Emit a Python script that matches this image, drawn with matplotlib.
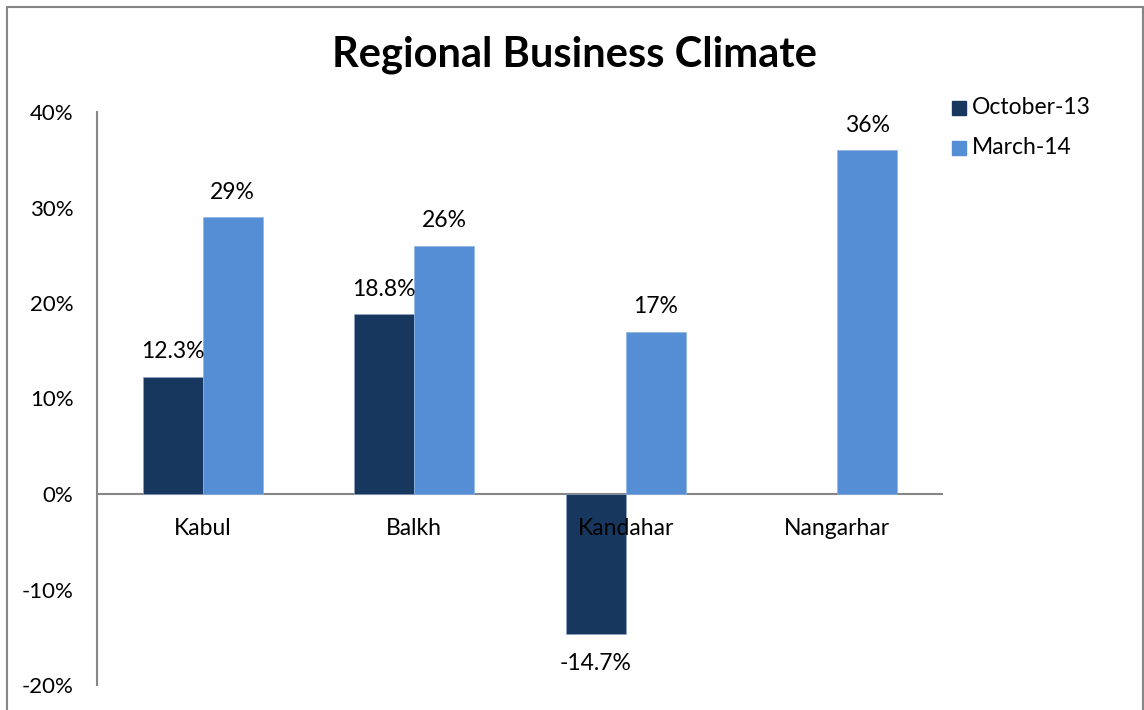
import matplotlib.pyplot as plt
import matplotlib.patches as patches
import numpy as np

plt.rcParams['font.family'] = ['Lato', 'DejaVu Sans']

regions = ['Kabul', 'Balkh', 'Kandahar', 'Nangarhar']
oct13 = [12.3, 18.8, -14.7, None]
mar14 = [29, 26, 17, 36]
oct13_labels = ['12.3%', '18.8%', '-14.7%', None]
mar14_labels = ['29%', '26%', '17%', '36%']

dark = '#17375E'
light = '#558ED5'

W, H = 1144, 710
fig = plt.figure(figsize=(W / 100, H / 100), dpi=100)
ax = fig.add_axes([97 / W, 1 - 685 / H, (943 - 97) / W, (685 - 112) / H])

x = np.arange(len(regions))
bw = 0.284
for i in range(len(regions)):
    if oct13[i] is not None:
        v = oct13[i] / 100
        ax.bar(x[i] - bw / 2, v, bw, color=dark, edgecolor='#8EA5C4', linewidth=0.5)
        off = 0.026 if v >= 0 else -0.03
        ax.text(x[i] - bw / 2, v + off, oct13_labels[i], ha='center', va='center', fontsize=16.5)
    v = mar14[i] / 100
    ax.bar(x[i] + bw / 2, v, bw, color=light, edgecolor='#8EB4E3', linewidth=0.5)
    ax.text(x[i] + bw / 2, v + 0.026, mar14_labels[i], ha='center', va='center', fontsize=16.5)

ax.set_xlim(-0.5, len(regions) - 0.5)
ax.set_ylim(-0.2, 0.4)
ax.set_yticks(np.arange(-0.2, 0.41, 0.1))
ax.set_yticklabels(['-20%', '-10%', '0%', '10%', '20%', '30%', '40%'], fontsize=16)
ax.tick_params(axis='y', length=0, pad=17)
ax.set_xticks([])
for s in ['top', 'right', 'bottom']:
    ax.spines[s].set_visible(False)
ax.spines['left'].set_color('#868686')
ax.spines['left'].set_linewidth(1.5)
ax.axhline(0, color='#868686', linewidth=1.5, zorder=0.5)

for i, r in enumerate(regions):
    ax.text(x[i], -0.036, r, ha='center', va='center', fontsize=16.5, zorder=5)

fig.text(575 / W, 1 - 55 / H, 'Regional Business Climate', ha='center', va='center',
         fontsize=30, fontweight='bold')

# legend drawn by hand to keep the square markers
for j, (lab, col) in enumerate([('October-13', dark), ('March-14', light)]):
    yy = 1 - (108 + 40 * j) / H
    fig.patches.append(patches.Rectangle((952 / W, yy - 7 / H), 14 / W, 14 / H,
                                         transform=fig.transFigure, color=col))
    fig.text(972 / W, yy, lab, ha='left', va='center', fontsize=16.5)

# outer chart border
fig.patches.append(patches.Rectangle((7 / W, -0.05), (1143 - 7) / W, 1.05 - 7 / H,
                                     transform=fig.transFigure, fill=False,
                                     edgecolor='#868686', linewidth=1.5))

fig.savefig('out.png', dpi=100)
